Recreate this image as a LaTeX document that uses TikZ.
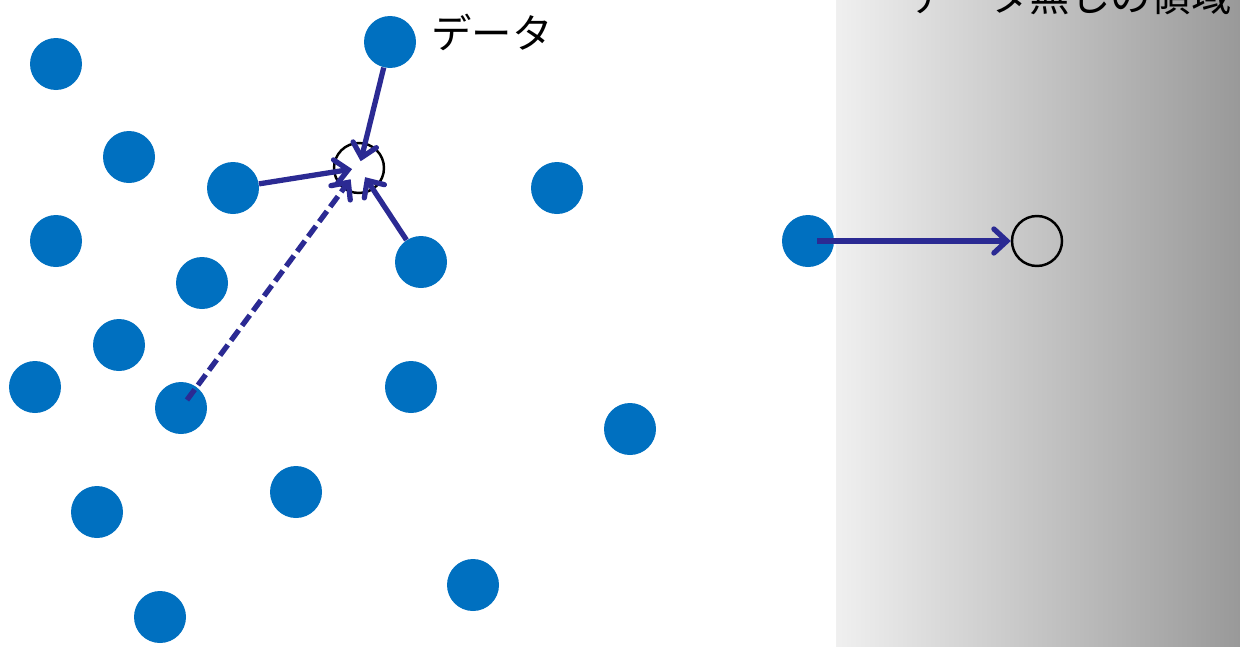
\documentclass[tikz,border=0pt]{standalone}
\usepackage{fontspec}
\setmainfont{Noto Sans CJK JP}
\usetikzlibrary{arrows.meta}
\definecolor{dotblue}{HTML}{0070C0}
\definecolor{arrowblue}{HTML}{2B2A93}
\tikzset{dot/.style={circle,fill=dotblue,minimum size=10.4mm,inner sep=0pt},empty/.style={circle,draw=black,line width=1.4pt,minimum size=10mm,inner sep=0pt},link/.style={draw=arrowblue,line width=3pt,-{Straight Barb[length=2.6mm,width=4.8mm,line cap=round]}},label/.style={font=\fontsize{23}{27}\selectfont,inner sep=0pt}}
\begin{document}
\begin{tikzpicture}[x=0.2mm,y=-0.2mm]
\useasboundingbox (0,0) rectangle (1240,646);
\clip (0,0) rectangle (1240,646);
% area without data
\shade[left color=gray!12,right color=gray!80] (836,0) rectangle (1240,646);
\node[label] (nodatalabel) at (1070,-4) {データ無しの領域};
% data points
\node[dot] (p1) at (56,64) {}; \node[dot] (p2) at (390,42) {}; \node[dot] (p3) at (129,157) {};
\node[dot] (p4) at (233,188) {}; \node[dot] (p5) at (557,188) {}; \node[dot] (p6) at (56,241) {};
\node[dot] (p7) at (421,262) {}; \node[dot] (p8) at (808,241) {}; \node[dot] (p9) at (202,283) {};
\node[dot] (p10) at (119,345) {}; \node[dot] (p11) at (35,387) {}; \node[dot] (p12) at (181,408) {};
\node[dot] (p13) at (411,387) {}; \node[dot] (p14) at (630,429) {}; \node[dot] (p15) at (296,492) {};
\node[dot] (p16) at (97,512) {}; \node[dot] (p17) at (473,585) {}; \node[dot] (p18) at (160,617) {};
\node[label,anchor=west] (datalabel) at (431,32) {データ};
% query points
\node[empty] (q1) at (359,168) {}; \node[empty] (q2) at (1037,241) {};
\draw[link,shorten >=1.4mm] (p2)--(q1.center); \draw[link,shorten >=1.4mm] (p4)--(q1.center);
\draw[link,shorten >=2.2mm] (p7)--(q1.center);
\draw[link,dash pattern=on 2.6mm off 1.1mm,shorten <=2mm,shorten >=2.8mm] (p12.center)--(q1.center);
\draw[link,shorten <=1.8mm] (p8.center)--(q2);
\end{tikzpicture}
\end{document}
